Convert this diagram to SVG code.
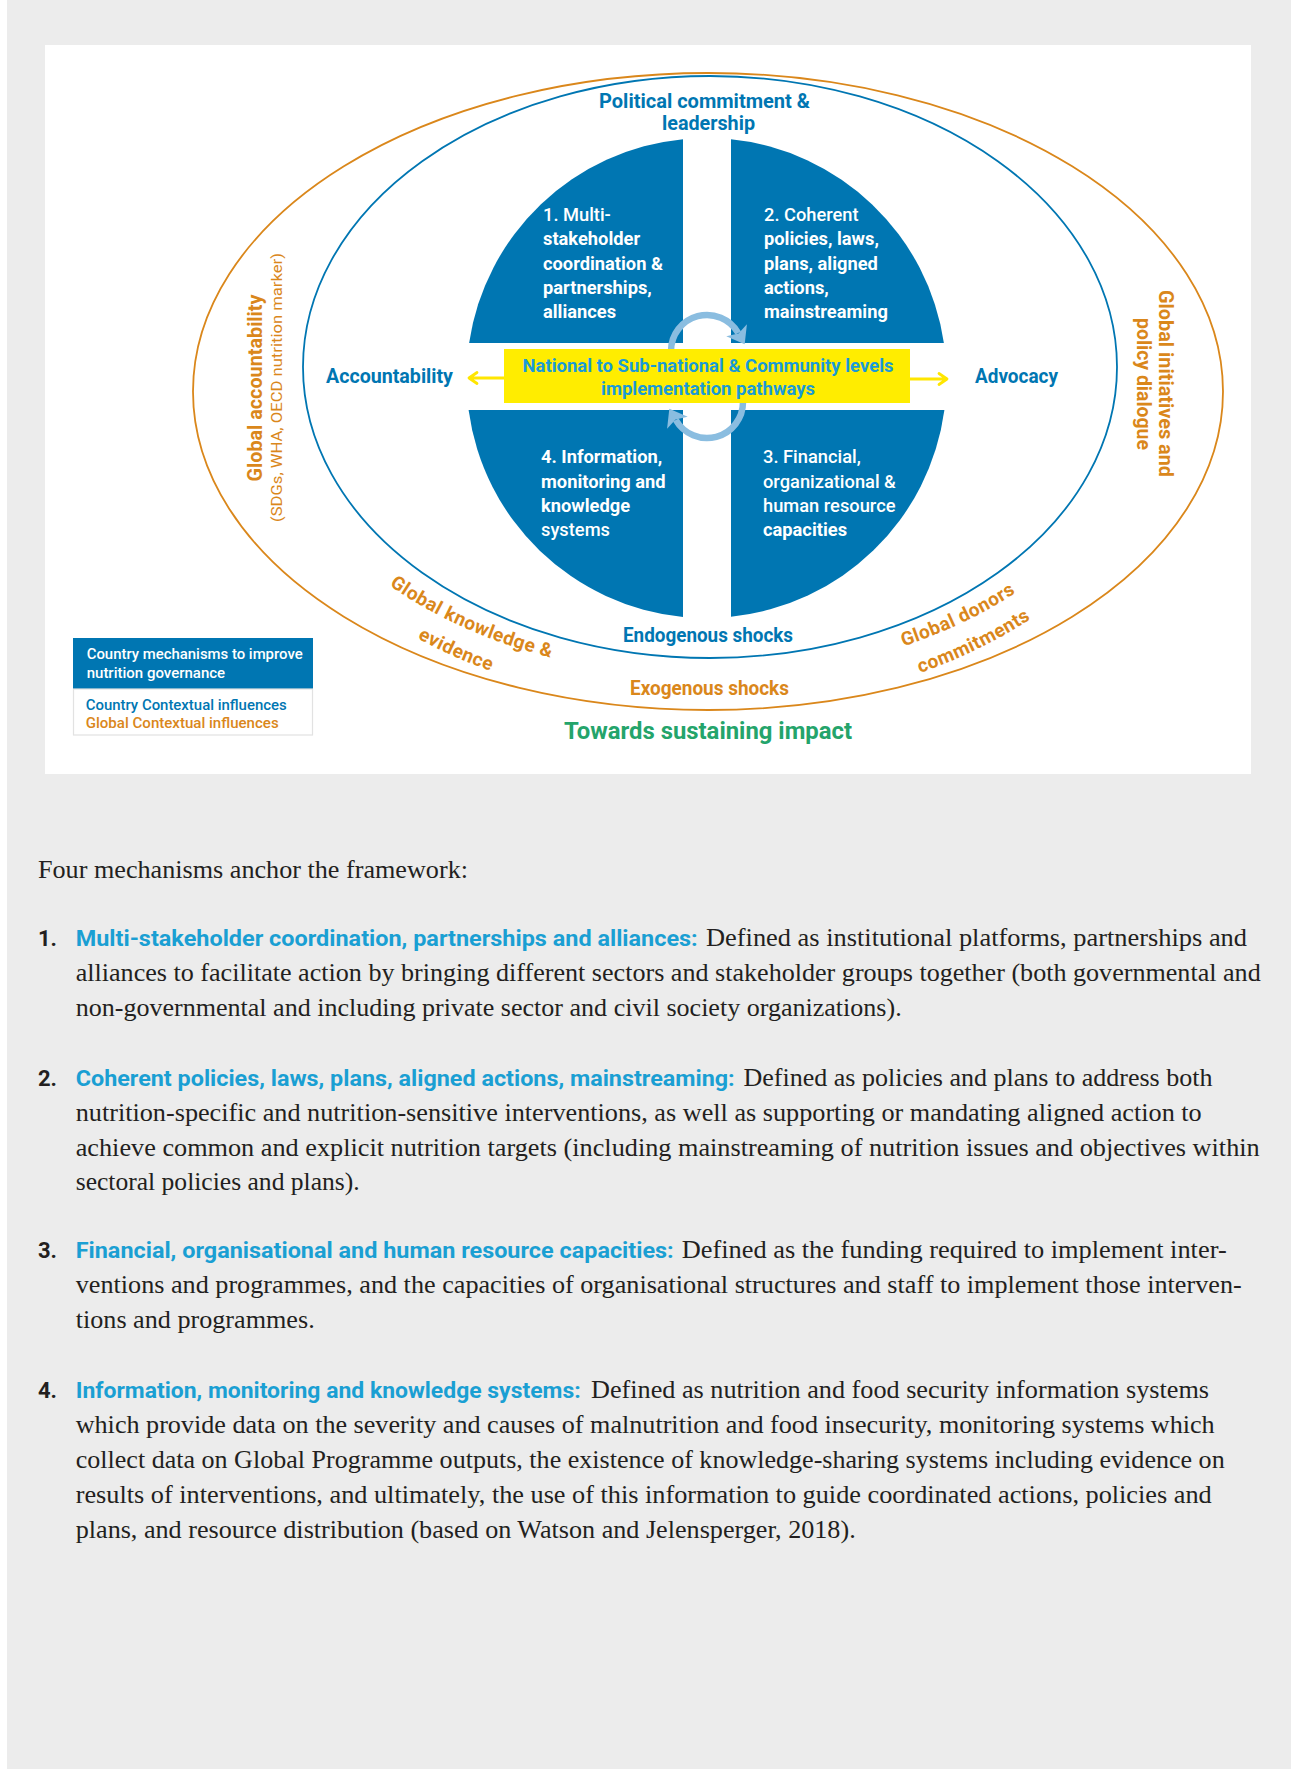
<svg xmlns="http://www.w3.org/2000/svg" width="1291" height="1769" viewBox="0 0 1291 1769">
<defs>
<style>
.sans{font-family:Roboto,"Liberation Sans",Arial,sans-serif;}
.b{font-weight:700;}
.m{font-weight:500;}
.r{font-weight:400;}
.cblue{fill:#0076b2;}
.corange{fill:#da871b;}
.cgreen{fill:#24a46b;}
.qt{font-family:Roboto,"Liberation Sans",Arial,sans-serif;font-size:18.3px;font-weight:700;fill:#ffffff;}
.qn{font-weight:500;}
.lbl{font-family:Roboto,"Liberation Sans",Arial,sans-serif;font-size:19.5px;font-weight:700;}
.curve{font-family:Roboto,"Liberation Sans",Arial,sans-serif;font-size:19px;font-weight:700;fill:#da871b;letter-spacing:0.5px;}
.body{font-family:"Liberation Serif","Times New Roman",serif;font-size:25px;fill:#231f20;}
.lab{font-family:Roboto,"Liberation Sans",Arial,sans-serif;font-size:22px;font-weight:700;fill:#1a9fd3;}
.num{font-family:Roboto,"Liberation Sans",Arial,sans-serif;font-size:22px;font-weight:700;fill:#231f20;}
.leg{font-family:Roboto,"Liberation Sans",Arial,sans-serif;font-size:15px;font-weight:500;}
.quad{fill:#0076b2;}
.ell{fill:none;stroke-width:1.8;}
.circarrow{fill:none;stroke:#8abde0;stroke-width:6.5;}
.yarrow{fill:none;stroke:#ffe600;stroke-width:2.8;stroke-linecap:round;stroke-linejoin:round;}
</style>
<marker id="circHead" markerUnits="userSpaceOnUse" markerWidth="24" markerHeight="26" viewBox="-1 -12 18 24" refX="3" refY="0" orient="auto">
<path d="M0,-11 L15,0 L0,11 L3.5,0 Z" fill="#8abde0"/>
</marker>
<path id="pKL1" d="M377.4,576.6 A438,292 0 0 0 565.4,661.1"/>
<path id="pKL2" d="M357.5,599.0 A468,323 0 0 0 559.5,691.3"/>
<path id="pDR1" d="M865.0,657.6 A438,292 0 0 0 1048.4,568.8"/>
<path id="pDR2" d="M873.4,687.1 A468,323 0 0 0 1070.1,589.6"/>
</defs>

<!-- page background -->
<rect x="0" y="0" width="1291" height="1769" fill="#ececec"/>
<rect x="0" y="0" width="7" height="1769" fill="#ffffff"/>
<rect x="45" y="45" width="1206" height="729" fill="#ffffff"/>

<!-- contextual rings -->
<g id="ring-global">
<ellipse class="ell" cx="708" cy="391.5" rx="515" ry="318.5" stroke="#da871b"/>
</g>
<g id="ring-country">
<ellipse class="ell" cx="710" cy="367" rx="407" ry="291" stroke="#0076b2"/>
</g>

<!-- quadrants -->
<g id="q1">
<path class="quad" d="M683,343 L683,139.2 A240,240 0 0 0 469.1,343 Z"/>
<text class="qt qn" x="543" y="221">1. Multi-</text>
<text class="qt" x="543" y="245.3">stakeholder</text>
<text class="qt" x="543" y="269.6">coordination &amp;</text>
<text class="qt" x="543" y="293.9">partnerships,</text>
<text class="qt" x="543" y="318.2">alliances</text>
</g>
<g id="q2">
<path class="quad" d="M731,343 L731,139.3 A240,240 0 0 1 943.9,343 Z"/>
<text class="qt qn" x="764" y="221">2. Coherent</text>
<text class="qt" x="764" y="245.3">policies, laws,</text>
<text class="qt" x="764" y="269.6">plans, aligned</text>
<text class="qt" x="764" y="293.9">actions,</text>
<text class="qt" x="764" y="318.2">mainstreaming</text>
</g>
<g id="q3">
<path class="quad" d="M731,410 L731,616.7 A240,240 0 0 0 944.4,410 Z"/>
<text class="qt qn" x="763" y="463.3">3. Financial,</text>
<text class="qt qn" x="763" y="487.5">organizational &amp;</text>
<text class="qt qn" x="763" y="511.8">human resource</text>
<text class="qt" x="763" y="536">capacities</text>
</g>
<g id="q4">
<path class="quad" d="M683,410 L683,616.9 A240,240 0 0 1 468.6,410 Z"/>
<text class="qt" x="541" y="463.3">4. Information,</text>
<text class="qt" x="541" y="487.5">monitoring and</text>
<text class="qt" x="541" y="511.8">knowledge</text>
<text class="qt qn" x="541" y="536">systems</text>
</g>

<!-- connectors -->
<g id="connectors">
<path class="circarrow" d="M671,351 A36,36 0 0 1 738.2,333" marker-end="url(#circHead)"/>
<path class="circarrow" d="M743,402 A36,36 0 0 1 675.8,420" marker-end="url(#circHead)"/>
<path class="yarrow" d="M504,378 L469,378 M477,372.5 L469,378 L477,383.5"/>
<path class="yarrow" d="M910,379 L947,379 M939,373.5 L947,379 L939,384.5"/>
</g>

<!-- centre box -->
<g id="centre">
<rect x="504" y="349" width="406" height="54" fill="#ffed00"/>
<text class="sans b" x="708" y="372" font-size="19" fill="#1a9ad7" text-anchor="middle" textLength="371" lengthAdjust="spacingAndGlyphs">National to Sub-national &amp; Community levels</text>
<text class="sans b" x="708" y="395" font-size="19" fill="#1a9ad7" text-anchor="middle" textLength="214" lengthAdjust="spacingAndGlyphs">implementation pathways</text>
</g>

<!-- country contextual labels -->
<g id="lbl-political">
<text class="lbl cblue" x="704.5" y="107.7" text-anchor="middle" textLength="211" lengthAdjust="spacingAndGlyphs">Political commitment &amp;</text>
<text class="lbl cblue" x="708.5" y="130" text-anchor="middle" textLength="93" lengthAdjust="spacingAndGlyphs">leadership</text>
</g>
<g id="lbl-accountability">
<text class="lbl cblue" x="326" y="383" textLength="127" lengthAdjust="spacingAndGlyphs">Accountability</text>
</g>
<g id="lbl-advocacy">
<text class="lbl cblue" x="975" y="383" textLength="83" lengthAdjust="spacingAndGlyphs">Advocacy</text>
</g>
<g id="lbl-endogenous">
<text class="lbl cblue" x="708" y="642" text-anchor="middle" textLength="170" lengthAdjust="spacingAndGlyphs">Endogenous shocks</text>
</g>

<!-- global contextual labels -->
<g id="lbl-exogenous">
<text class="lbl corange" x="709.5" y="695" text-anchor="middle" textLength="159" lengthAdjust="spacingAndGlyphs">Exogenous shocks</text>
</g>
<g id="lbl-global-accountability">
<text class="sans b corange" font-size="20" transform="translate(262,388) rotate(-90)" text-anchor="middle" textLength="187" lengthAdjust="spacingAndGlyphs">Global accountability</text>
<text class="sans r corange" font-size="15" transform="translate(282,387.5) rotate(-90)" text-anchor="middle" textLength="269" lengthAdjust="spacingAndGlyphs">(SDGs, WHA, OECD nutrition marker)</text>
</g>
<g id="lbl-global-initiatives">
<text class="sans b corange" font-size="20" transform="translate(1159,383.5) rotate(90)" text-anchor="middle" textLength="187" lengthAdjust="spacingAndGlyphs">Global initiatives and</text>
<text class="sans b corange" font-size="20" transform="translate(1137,384) rotate(90)" text-anchor="middle" textLength="132" lengthAdjust="spacingAndGlyphs">policy dialogue</text>
</g>
<g id="lbl-global-knowledge">
<text class="curve"><textPath href="#pKL1" startOffset="50%" text-anchor="middle">Global knowledge &amp;</textPath><textPath href="#pKL2" startOffset="50%" text-anchor="middle">evidence</textPath></text>
</g>
<g id="lbl-global-donors">
<text class="curve"><textPath href="#pDR1" startOffset="50%" text-anchor="middle">Global donors</textPath><textPath href="#pDR2" startOffset="50%" text-anchor="middle">commitments</textPath></text>
</g>
<g id="lbl-impact">
<text class="sans b cgreen" font-size="24" x="708" y="739" text-anchor="middle" textLength="288" lengthAdjust="spacingAndGlyphs">Towards sustaining impact</text>
</g>

<!-- legend -->
<g id="legend">
<rect x="73" y="638" width="240" height="51" fill="#0076b2"/>
<rect x="73.5" y="689" width="239" height="46" fill="#ffffff" stroke="#e2e2e2" stroke-width="1.2"/>
<text class="leg" x="86.7" y="659" fill="#ffffff" textLength="216" lengthAdjust="spacingAndGlyphs">Country mechanisms to improve</text>
<text class="leg" x="86.7" y="678" fill="#ffffff">nutrition governance</text>
<text class="leg" x="85.7" y="710" fill="#0076b2" textLength="201" lengthAdjust="spacingAndGlyphs">Country Contextual influences</text>
<text class="leg" x="85.7" y="728" fill="#da871b" textLength="193" lengthAdjust="spacingAndGlyphs">Global Contextual influences</text>
</g>

<!-- body text -->
<g id="body">
<text class="body" x="38" y="878" textLength="430" lengthAdjust="spacingAndGlyphs">Four mechanisms anchor the framework:</text>

<text class="num" x="38" y="946">1.</text>
<text class="lab" x="75.7" y="946" textLength="622" lengthAdjust="spacingAndGlyphs">Multi-stakeholder coordination, partnerships and alliances:</text>
<text class="body" x="706" y="946" textLength="541" lengthAdjust="spacingAndGlyphs">Defined as institutional platforms, partnerships and</text>
<text class="body" x="75.7" y="981" textLength="1185" lengthAdjust="spacingAndGlyphs">alliances to facilitate action by bringing different sectors and stakeholder groups together (both governmental and</text>
<text class="body" x="75.7" y="1016" textLength="826" lengthAdjust="spacingAndGlyphs">non-governmental and including private sector and civil society organizations).</text>

<text class="num" x="38" y="1086">2.</text>
<text class="lab" x="75.7" y="1086" textLength="659" lengthAdjust="spacingAndGlyphs">Coherent policies, laws, plans, aligned actions, mainstreaming:</text>
<text class="body" x="743.5" y="1086" textLength="469" lengthAdjust="spacingAndGlyphs">Defined as policies and plans to address both</text>
<text class="body" x="75.7" y="1121" textLength="1126" lengthAdjust="spacingAndGlyphs">nutrition-specific and nutrition-sensitive interventions, as well as supporting or mandating aligned action to</text>
<text class="body" x="75.7" y="1155.5" textLength="1184" lengthAdjust="spacingAndGlyphs">achieve common and explicit nutrition targets (including mainstreaming of nutrition issues and objectives within</text>
<text class="body" x="75.7" y="1190" textLength="284" lengthAdjust="spacingAndGlyphs">sectoral policies and plans).</text>

<text class="num" x="38" y="1258">3.</text>
<text class="lab" x="75.7" y="1258" textLength="598" lengthAdjust="spacingAndGlyphs">Financial, organisational and human resource capacities:</text>
<text class="body" x="681.7" y="1258" textLength="545" lengthAdjust="spacingAndGlyphs">Defined as the funding required to implement inter-</text>
<text class="body" x="75.7" y="1293" textLength="1166" lengthAdjust="spacingAndGlyphs">ventions and programmes, and the capacities of organisational structures and staff to implement those interven-</text>
<text class="body" x="75.7" y="1328" textLength="239" lengthAdjust="spacingAndGlyphs">tions and programmes.</text>

<text class="num" x="38" y="1398">4.</text>
<text class="lab" x="75.7" y="1398" textLength="505" lengthAdjust="spacingAndGlyphs">Information, monitoring and knowledge systems:</text>
<text class="body" x="591" y="1398" textLength="618" lengthAdjust="spacingAndGlyphs">Defined as nutrition and food security information systems</text>
<text class="body" x="75.7" y="1433" textLength="1139" lengthAdjust="spacingAndGlyphs">which provide data on the severity and causes of malnutrition and food insecurity, monitoring systems which</text>
<text class="body" x="75.7" y="1468" textLength="1149" lengthAdjust="spacingAndGlyphs">collect data on Global Programme outputs, the existence of knowledge-sharing systems including evidence on</text>
<text class="body" x="75.7" y="1503" textLength="1136" lengthAdjust="spacingAndGlyphs">results of interventions, and ultimately, the use of this information to guide coordinated actions, policies and</text>
<text class="body" x="75.7" y="1538" textLength="780" lengthAdjust="spacingAndGlyphs">plans, and resource distribution (based on Watson and Jelensperger, 2018).</text>
</g>
</svg>
